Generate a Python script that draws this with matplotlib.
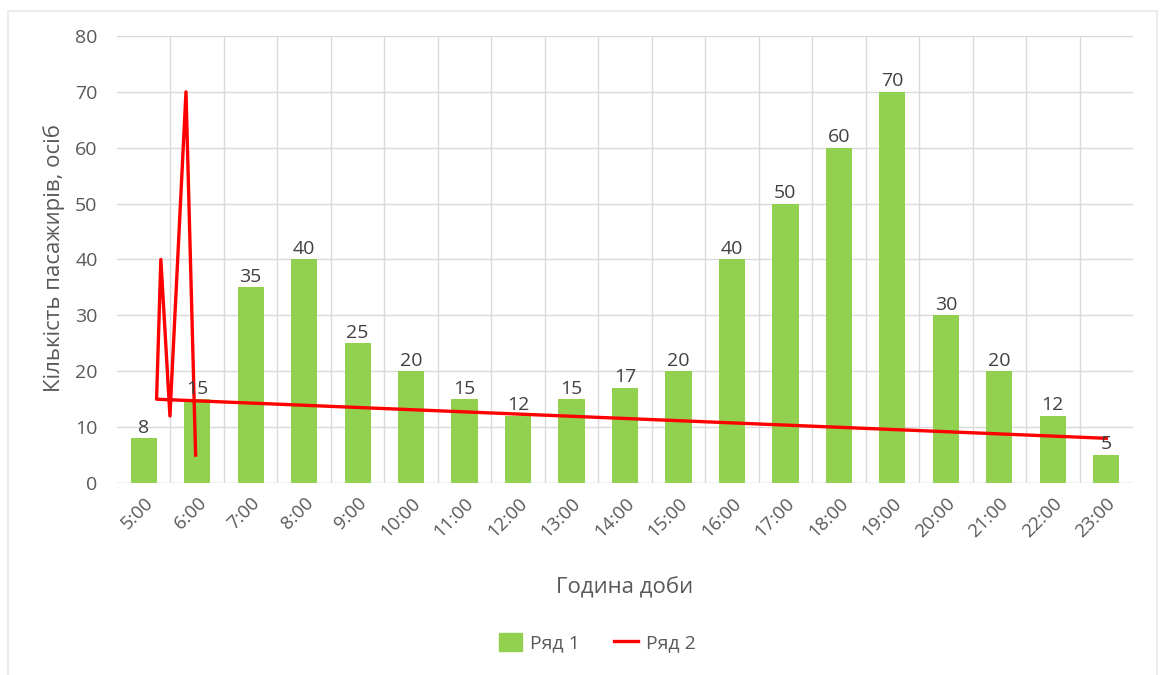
import matplotlib
matplotlib.use("Agg")
import matplotlib.pyplot as plt
from matplotlib.lines import Line2D
import numpy as np

plt.rcParams['font.family'] = ['Open Sans', 'DejaVu Sans']

hours = ["5:00", "6:00", "7:00", "8:00", "9:00", "10:00", "11:00", "12:00", "13:00",
         "14:00", "15:00", "16:00", "17:00", "18:00", "19:00", "20:00", "21:00", "22:00", "23:00"]
series1 = [8, 15, 35, 40, 25, 20, 15, 12, 15, 17, 20, 40, 50, 60, 70, 30, 20, 12, 5]

# Ряд 2 path (category-axis positions, values)
series2_x = [18.0, 0.24, 0.32, 0.49, 0.79, 0.97]
series2_y = [8, 15, 40, 12, 70, 5]

green = "#92D050"
red = "#FF0000"
txt = "#595959"
grid = "#D9D9D9"

fig = plt.figure(figsize=(11.61, 6.75), dpi=100)
ax = fig.add_axes([117/1161, 1 - 483/675, (1133-117)/1161, (483-36)/675])

x = np.arange(len(hours))
ax.bar(x, series1, width=0.49, color=green, zorder=2, label="Ряд 1")
for xi, v in zip(x, series1):
    ax.text(xi, v + 0.3, str(v), ha="center", va="bottom", fontsize=14, color="#404040", zorder=4)

ax.plot(series2_x, series2_y, color=red, lw=2.4, zorder=3, label="Ряд 2")

ax.set_xlim(-0.5, len(hours) - 0.5)
ax.set_ylim(0, 80)
ax.set_yticks(range(0, 81, 10))
ax.set_xticks(x)
ax.set_xticklabels(hours, rotation=45, ha="right", rotation_mode="anchor", fontsize=13.5, color=txt)
ax.tick_params(axis="y", labelsize=14, labelcolor=txt, length=0, pad=14)
ax.tick_params(axis="x", length=0, pad=8)

ax.set_xticks(np.arange(0.5, len(hours) - 1, 1.0), minor=True)
ax.tick_params(axis="x", which="minor", length=0)
ax.grid(True, axis="y", which="major", color=grid, lw=1.0, zorder=0)
ax.grid(True, axis="x", which="minor", color=grid, lw=1.0, zorder=0)
ax.grid(False, axis="x", which="major")
for s in ax.spines.values():
    s.set_visible(False)
ax.axhline(0, color=grid, lw=1.0, zorder=1)

fig.text(54/1161, 1 - 258/675, "Кількість пасажирів, осіб", rotation=90, ha="center", va="center",
         fontsize=16, color=txt)
fig.text(625/1161, 1 - 588/675, "Година доби", ha="center", va="center", fontsize=16, color=txt)

handles = [plt.Rectangle((0, 0), 1, 1, color=green), Line2D([0], [0], color=red, lw=2.4)]
fig.legend(handles, ["Ряд 1", "Ряд 2"], loc="center", bbox_to_anchor=(597/1161, 1 - 643/675),
           ncol=2, frameon=False, fontsize=14, labelcolor=txt, handlelength=1.2,
           handleheight=1.0, columnspacing=1.8, handletextpad=0.4)

# chart border
border_color = "#EDEDED"
fig.add_artist(Line2D([8/1161, 8/1161], [0, 1 - 11/675], transform=fig.transFigure, color=border_color, lw=1.5))
fig.add_artist(Line2D([1157/1161, 1157/1161], [0, 1 - 11/675], transform=fig.transFigure, color=border_color, lw=1.5))
fig.add_artist(Line2D([8/1161, 1157/1161], [1 - 11/675, 1 - 11/675], transform=fig.transFigure, color=border_color, lw=1.5))

fig.savefig("out.png", dpi=100, facecolor="white")
